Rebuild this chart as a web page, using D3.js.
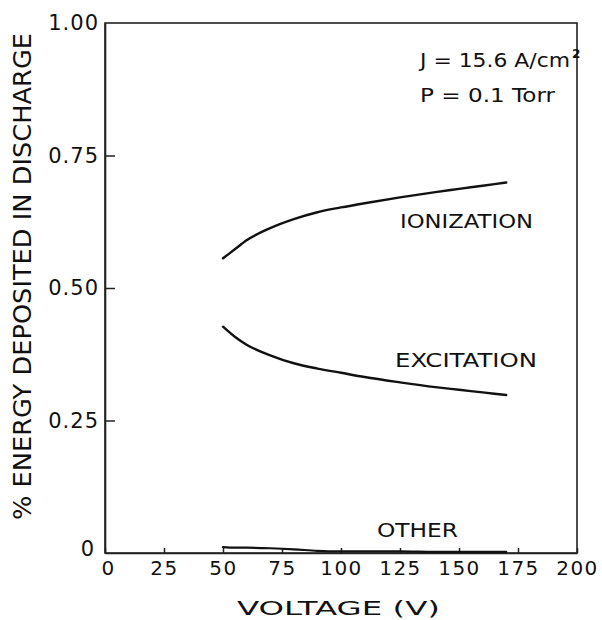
<!DOCTYPE html>
<html>
<head>
<meta charset="utf-8">
<script src="https://cdn.jsdelivr.net/npm/d3@7/dist/d3.min.js"></script>
<style>
  html, body { margin: 0; padding: 0; background: #fff; }
  svg { display: block; }
  text { font-family: "DejaVu Sans", sans-serif; fill: #111; }
</style>
</head>
<body>
<script>
// Fraction of discharge energy going into each channel vs. applied voltage
const voltage    = [50, 55, 60, 70, 80, 90, 100, 110, 125, 140, 150, 160, 170];
const ionization = [0.556, 0.573, 0.590, 0.613, 0.630, 0.643, 0.652, 0.660, 0.671, 0.681, 0.687, 0.693, 0.699];
const excitation = [0.427, 0.408, 0.393, 0.373, 0.358, 0.348, 0.340, 0.332, 0.322, 0.313, 0.308, 0.303, 0.298];
const other      = [0.011, 0.010, 0.010, 0.009, 0.007, 0.004, 0.003, 0.003, 0.003, 0.002, 0.002, 0.002, 0.002];

const xTicks = [0, 25, 50, 75, 100, 125, 150, 175, 200];
const yTicks = [0, 0.25, 0.5, 0.75, 1.0];
const yTickLabels = ["0", "0.25", "0.50", "0.75", "1.00"];

const W = 602, H = 620;
const margin = { left: 105, top: 23, right: 25, bottom: 67 };

const svg = d3.select("body").append("svg")
  .attr("width", W).attr("height", H);

const x = d3.scaleLinear().domain([0, 200]).range([margin.left, W - margin.right]);
const y = d3.scaleLinear().domain([0, 1]).range([H - margin.bottom, margin.top]);

// frame
svg.append("rect")
  .attr("x", x(0)).attr("y", y(1))
  .attr("width", x(200) - x(0)).attr("height", y(0) - y(1))
  .attr("fill", "none").attr("stroke", "#222").attr("stroke-width", 1.6);

// bottom axis, ticks pointing inward
const xAxis = svg.append("g")
  .attr("transform", `translate(0,${y(0)})`)
  .call(d3.axisBottom(x).tickValues(xTicks).tickSizeInner(-5).tickSizeOuter(0).tickPadding(8)
    .tickFormat(d3.format("d")));
xAxis.select(".domain").attr("stroke", "#222").attr("stroke-width", 1.6);
xAxis.selectAll(".tick line").attr("stroke", "#222").attr("stroke-width", 1.5);
xAxis.selectAll(".tick text")
  .style("font-size", "20px").attr("letter-spacing", "1.5px")
  .attr("fill", "#111")
  .attr("dx", d => d === 0 ? "3px" : "0");

// left axis, ticks pointing inward
const yAxis = svg.append("g")
  .attr("transform", `translate(${x(0)},0)`)
  .call(d3.axisLeft(y).tickValues(yTicks).tickSizeInner(-10).tickSizeOuter(0).tickPadding(6)
    .tickFormat((d, i) => yTickLabels[i]));
yAxis.select(".domain").attr("stroke", "#222").attr("stroke-width", 1.6);
yAxis.selectAll(".tick line").attr("stroke", "#222").attr("stroke-width", 1.5)
  .attr("opacity", d => (d === 0 || d === 1) ? 0 : 1);
yAxis.selectAll(".tick text")
  .style("font-size", "21px").attr("letter-spacing", "1px")
  .attr("fill", "#111")
  .attr("dx", d => d === 0 ? "-4px" : "0")
  .attr("dy", d => d === 0 ? "0.1em" : "0.32em");

// curves
const line = vals => d3.line()
  .x((d, i) => x(voltage[i]))
  .y(d => y(d))
  .curve(d3.curveMonotoneX)(vals);

[[ionization, 2.4], [excitation, 2.4], [other, 2.2]].forEach(([vals, w]) => {
  svg.append("path")
    .attr("d", line(vals))
    .attr("fill", "none")
    .attr("stroke", "#111")
    .attr("stroke-width", w)
    .attr("stroke-linecap", "round");
});

// curve labels
const lbl = (txt, px, py, len) => svg.append("text")
  .attr("x", px).attr("y", py)
  .attr("textLength", len).attr("lengthAdjust", "spacingAndGlyphs")
  .style("font-size", "19px")
  .text(txt);

lbl("IONIZATION", 400, 228, 133);
lbl("EXCITATION", 395, 367, 142);
lbl("OTHER", 377, 537, 81);

// operating conditions
const jt = svg.append("text").attr("x", 420).attr("y", 67).style("font-size", "19px");
jt.append("tspan").attr("textLength", 150).attr("lengthAdjust", "spacingAndGlyphs").text("J = 15.6 A/cm");
jt.append("tspan").attr("dy", "-9").attr("dx", "2").style("font-size", "12px").attr("font-weight", "bold").text("2");
svg.append("text").attr("x", 420).attr("y", 102)
  .attr("textLength", 135).attr("lengthAdjust", "spacingAndGlyphs")
  .style("font-size", "19px").text("P = 0.1 Torr");

// axis titles
svg.append("text")
  .attr("x", 237).attr("y", 615)
  .attr("textLength", 203).attr("lengthAdjust", "spacingAndGlyphs")
  .style("font-size", "19px")
  .text("VOLTAGE (V)");

svg.append("text")
  .attr("transform", "translate(31,520) rotate(-90)")
  .attr("x", 0).attr("y", 0)
  .attr("textLength", 487).attr("lengthAdjust", "spacingAndGlyphs")
  .style("font-size", "24px")
  .text("% ENERGY DEPOSITED IN DISCHARGE");
</script>
</body>
</html>
